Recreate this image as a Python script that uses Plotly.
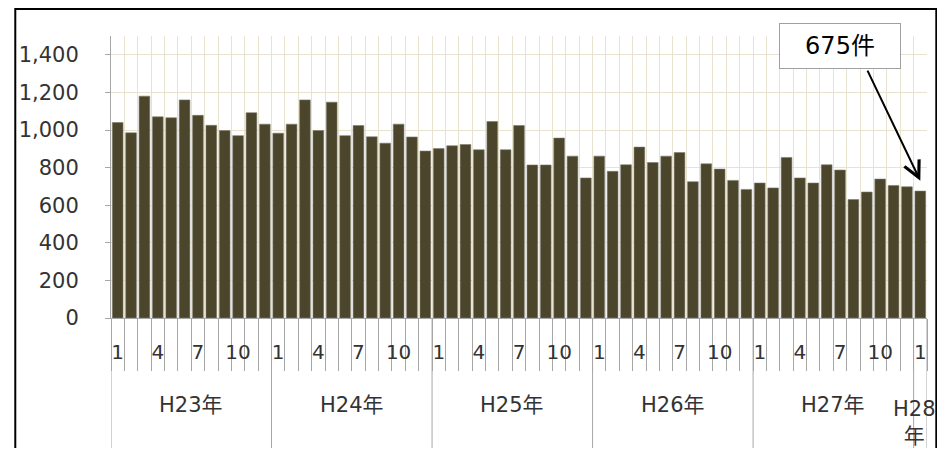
import plotly.graph_objects as go

# 月別件数 (H23年1月 〜 H28年1月)
years = ["H23年", "H24年", "H25年", "H26年", "H27年", "H28<br>年"]
year_months = [12, 12, 12, 12, 12, 1]
months = [1, 2, 3, 4, 5, 6, 7, 8, 9, 10, 11, 12,
          1, 2, 3, 4, 5, 6, 7, 8, 9, 10, 11, 12,
          1, 2, 3, 4, 5, 6, 7, 8, 9, 10, 11, 12,
          1, 2, 3, 4, 5, 6, 7, 8, 9, 10, 11, 12,
          1, 2, 3, 4, 5, 6, 7, 8, 9, 10, 11, 12,
          1]
counts = [1040, 985, 1180, 1070, 1065, 1160, 1078, 1025, 997, 970, 1092, 1031,
          983, 1031, 1160, 997, 1148, 970, 1024, 964, 930, 1031, 963, 888,
          901, 916, 923, 895, 1045, 895, 1024, 814, 814, 957, 861, 745,
          861, 780, 815, 909, 827, 861, 880, 725, 820, 792, 732, 684,
          718, 692, 854, 745, 718, 815, 787, 630, 670, 739, 705, 698,
          675]
shown_months = [1, 4, 7, 10]
callout_text = "675件"

FONT = "DejaVu Sans, Noto Sans CJK JP"
GRID = "#e7e3cf"
AXIS = "#a6a6a6"
TEXT = "#333333"

x = list(range(len(counts)))

fig = go.Figure(go.Bar(
    x=x, y=counts,
    marker=dict(color="#4b452c", line=dict(color="#7d7a6c", width=0.6)),
    width=0.8,
    hoverinfo="skip",
))

# 月ラベル
tickvals = [i for i, m in zip(x, months) if m in shown_months]
ticktext = [str(months[i]) for i in tickvals]
boundaries = [i - 0.5 for i in range(len(counts) + 1)]

# 年の区切りと年ラベル
shapes = []
annotations = []
start = 0
for label, n in zip(years, year_months):
    shapes.append(dict(type="line", xref="x", yref="paper", x0=start - 0.5, x1=start - 0.5,
                       y0=0, y1=-0.6, line=dict(color=AXIS, width=1)))
    two_line = "<br>" in label
    annotations.append(dict(
        x=start + (n - 1) / 2, y=-0.369 if two_line else -0.3085,
        xref="x", yref="paper", text=label, showarrow=False,
        xshift=-6 if two_line else 0,
        font=dict(family=FONT, size=21, color=TEXT), yanchor="middle",
    ))
    start += n
shapes.append(dict(type="line", xref="x", yref="paper", x0=start - 0.5, x1=start - 0.5,
                   y0=0, y1=-0.6, line=dict(color=AXIS, width=1)))

# 外枠
shapes.append(dict(type="rect", xref="paper", yref="paper", x0=-0.1173, x1=1.0114,
                   y0=-0.7, y1=1.0957, line=dict(color="black", width=2)))

# 吹き出し
annotations.append(dict(
    x=53.97, y=1449, xref="x", yref="y", text=callout_text, showarrow=False,
    font=dict(family=FONT, size=24, color="black"),
    bgcolor="white", bordercolor="#a0a0a0", borderwidth=1,
    width=120, height=44, borderpad=0,
))
annotations.append(dict(
    x=len(counts) - 1, y=730, xref="x", yref="y", text="",
    showarrow=True, axref="x", ayref="y", ax=56.0, ay=1324,
    arrowhead=5, arrowsize=1.6, arrowwidth=2, arrowcolor="black",
))

fig.update_layout(
    width=929, height=440,
    margin=dict(l=103, r=10, t=28, b=130),
    plot_bgcolor="white", paper_bgcolor="white",
    showlegend=False,
    shapes=shapes,
    annotations=annotations,
    xaxis=dict(
        range=[-0.5, len(counts) - 0.5],
        tickmode="array", tickvals=tickvals, ticktext=ticktext,
        ticks="", ticklabelstandoff=16,
        tickfont=dict(family=FONT, size=20, color=TEXT),
        showgrid=False, zeroline=False,
        showline=True, linecolor=AXIS, linewidth=1,
        minor=dict(tickmode="array", tickvals=boundaries, ticks="outside",
                   ticklen=52, tickcolor=AXIS, tickwidth=1,
                   showgrid=True, gridcolor=GRID, gridwidth=1),
    ),
    yaxis=dict(
        range=[0, 1500], dtick=200, tickformat=",",
        tickfont=dict(family=FONT, size=21, color=TEXT),
        showgrid=True, gridcolor=GRID, gridwidth=1, zeroline=False,
        showline=True, linecolor=AXIS, linewidth=1,
        ticks="outside", ticklen=5, tickcolor=AXIS, ticklabelstandoff=22,
    ),
)

fig.write_html("out.html")
